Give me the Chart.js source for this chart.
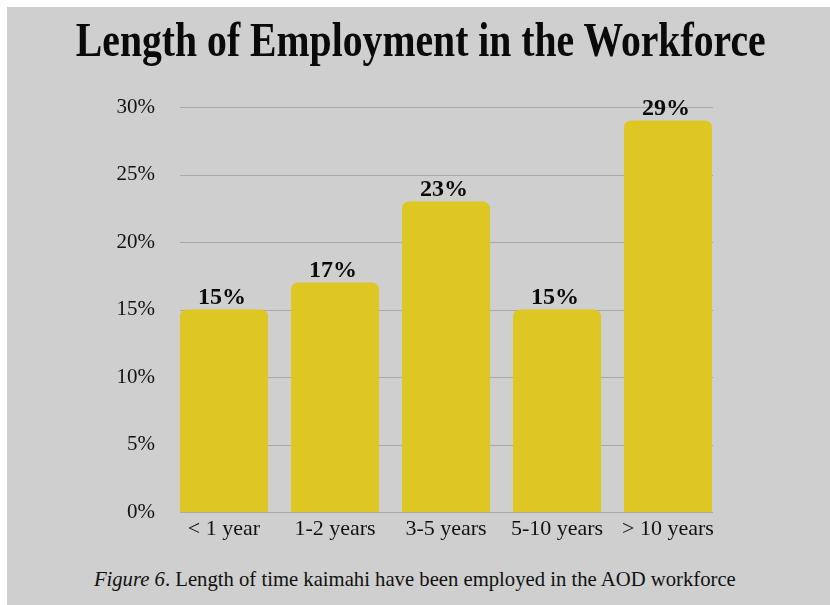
<!DOCTYPE html>
<html>
<head>
<meta charset="utf-8">
<script src="https://cdn.jsdelivr.net/npm/chart.js@4.4.1/dist/chart.umd.min.js"></script>
<style>
  html, body { margin: 0; padding: 0; background: #ffffff; }
  #panel {
    position: absolute; left: 7px; top: 7px; width: 823px; height: 598px;
    background: #cfcfcf; overflow: hidden;
  }
  #wrap { position: absolute; left: -7px; top: -7px; width: 830px; height: 560px; }
  h1 {
    position: absolute; left: -3px; top: 11px; width: 830px; margin: 0;
    text-align: center; font-family: "Liberation Serif", serif; font-weight: bold;
    font-size: 49px; color: #0a0a0a; white-space: nowrap;
    transform: scaleX(0.81); transform-origin: 415px 0;
  }
  p.caption {
    position: absolute; left: 0; top: 566px; width: 830px; margin: 0;
    text-align: center; font-family: "Liberation Serif", serif; font-size: 22px;
    color: #111; white-space: nowrap;
    transform: scaleX(0.94); transform-origin: 412px 0;
  }
</style>
</head>
<body>
<div id="panel">
  <div id="wrap"><canvas id="mycanvas" width="830" height="560"></canvas></div>
</div>
<h1>Length of Employment in the Workforce</h1>
<p class="caption"><i>Figure 6</i>. Length of time kaimahi have been employed in the AOD workforce</p>
<script>
var categories = ["< 1 year", "1-2 years", "3-5 years", "5-10 years", "> 10 years"];
var percents = [15, 17, 23, 15, 29];
var yTicks = [0, 5, 10, 15, 20, 25, 30];

var serif = "'Liberation Serif', serif";

// horizontal guide lines, only as wide as the row of bars
var gridPlugin = {
	id: "barGrid",
	beforeDatasetsDraw: function(chart) {
		var bars = chart.getDatasetMeta(0).data;
		var first = bars[0], last = bars[bars.length - 1];
		var x0 = first.x - first.width / 2;
		var x1 = last.x + last.width / 2;
		var y = chart.scales.y;
		var ctx = chart.ctx;
		ctx.save();
		ctx.strokeStyle = "#a9a9a9";
		ctx.lineWidth = 1;
		yTicks.forEach(function(t) {
			var py = Math.round(y.getPixelForValue(t)) + 0.5;
			ctx.beginPath();
			ctx.moveTo(x0, py);
			ctx.lineTo(x1 + 1, py);
			ctx.stroke();
		});
		ctx.restore();
	}
};

// value labels above bars
var labelPlugin = {
	id: "barLabels",
	afterDatasetsDraw: function(chart) {
		var ctx = chart.ctx;
		var meta = chart.getDatasetMeta(0);
		ctx.save();
		ctx.font = "bold 24px " + serif;
		ctx.fillStyle = "#0a0a0a";
		ctx.textAlign = "center";
		ctx.textBaseline = "alphabetic";
		meta.data.forEach(function(bar, i) {
			ctx.fillText(percents[i] + "%", bar.x - 2, bar.y - 6);
		});
		ctx.restore();
	}
};

var ctx = document.getElementById("mycanvas");
Chart.defaults.font.family = serif;

new Chart(ctx, {
	type: "bar",
	data: {
		labels: categories,
		datasets: [{
			data: percents,
			backgroundColor: "#dec623",
			borderRadius: { topLeft: 7, topRight: 7, bottomLeft: 0, bottomRight: 0 },
			borderSkipped: "bottom",
			barPercentage: 0.793,
			categoryPercentage: 1.0
		}]
	},
	options: {
		responsive: false,
		animation: false,
		devicePixelRatio: 1,
		layout: { padding: { top: 107, right: 106.5, left: 0, bottom: 0 } },
		plugins: {
			legend: { display: false },
			tooltip: { enabled: false }
		},
		scales: {
			x: {
				offset: true,
				grid: { display: false },
				border: { display: false },
				ticks: { color: "#111", font: { size: 22 }, padding: -4 },
				afterFit: function(scale) { scale.height = 48; }
			},
			y: {
				min: 0,
				max: 30,
				grid: { display: false },
				border: { display: false },
				afterBuildTicks: function(scale) {
					scale.ticks = yTicks.map(function(v) { return { value: v }; });
				},
				ticks: {
					color: "#111",
					font: { size: 21 },
					padding: 5.5,
					callback: function(v) { return v + "%"; }
				},
				afterFit: function(scale) { scale.width = 168.5; }
			}
		}
	},
	plugins: [gridPlugin, labelPlugin]
});
</script>
</body>
</html>
